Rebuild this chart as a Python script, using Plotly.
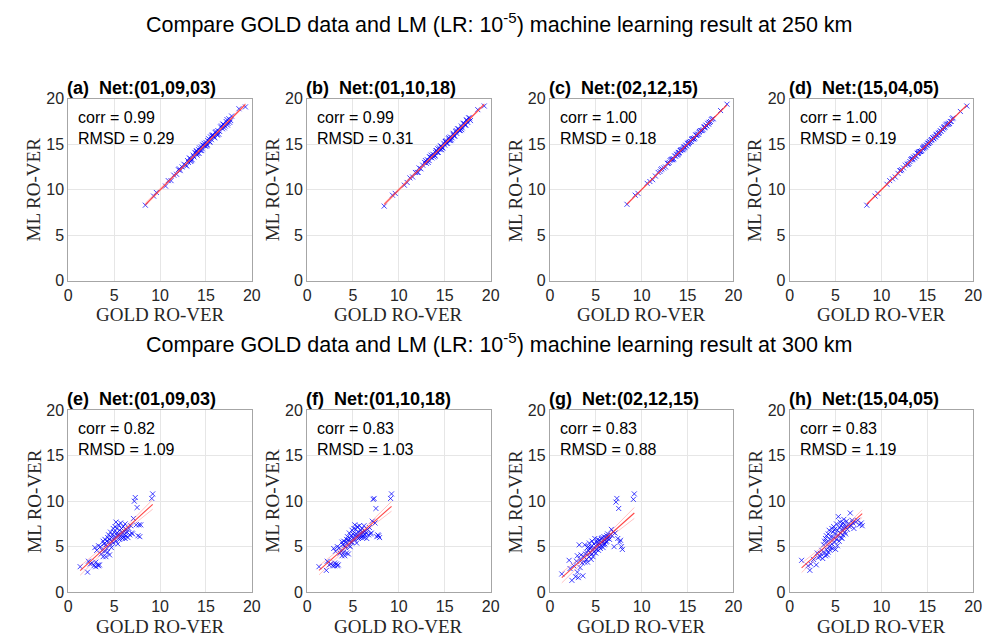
import numpy as np
import plotly.graph_objects as go

# ---------------- data ----------------
# 250 km : GOLD RO-VER (shared x) and ML RO-VER per network
gold_250 = [8.4, 9.3, 9.6, 10.6, 10.9, 11.2, 11.5, 11.8, 12.0, 12.2,
            12.4, 12.6, 12.8, 13.0, 13.1, 13.3, 13.4, 13.6, 13.7, 13.9,
            14.0, 14.1, 14.2, 14.4, 14.5, 14.6, 14.7, 14.9, 15.0, 15.1,
            15.2, 15.4, 15.5, 15.6, 15.8, 15.9, 16.0, 16.2, 16.3, 16.5,
            16.6, 16.8, 16.9, 17.1, 17.2, 17.4, 17.5, 17.7, 18.6, 19.3,
            12.1, 12.9, 13.2, 13.5, 13.8, 14.05, 14.3, 14.55, 14.8, 15.05,
            15.3, 15.45, 15.7, 15.95, 16.1, 16.4, 16.7, 17.0, 17.3, 17.6,
            13.35, 13.95, 14.25, 14.65, 15.15, 15.65, 16.25, 16.85, 17.35, 17.8]
ml_a = [8.3, 9.3, 9.7, 10.4, 11.0, 11.0, 11.6, 11.7, 12.2, 12.1,
        12.5, 12.8, 12.7, 13.2, 13.0, 13.4, 13.2, 13.8, 13.6, 14.0,
        14.2, 14.0, 14.4, 14.3, 14.7, 14.5, 14.9, 14.8, 15.2, 15.0,
        15.4, 15.3, 15.8, 15.5, 16.0, 15.8, 16.3, 16.1, 16.5, 16.4,
        16.9, 16.7, 17.2, 17.0, 17.5, 17.3, 17.8, 17.6, 18.9, 19.1,
        12.3, 12.6, 13.5, 13.3, 14.1, 13.8, 14.6, 14.3, 15.1, 14.8,
        15.6, 15.2, 16.0, 15.7, 16.4, 16.1, 17.0, 16.8, 17.7, 17.4,
        13.1, 14.3, 14.0, 14.9, 14.9, 15.9, 16.0, 17.2, 17.1, 18.1]
ml_b = [8.2, 9.4, 9.6, 10.5, 10.8, 11.3, 11.4, 11.9, 11.9, 12.4,
        12.3, 12.7, 13.0, 12.9, 13.3, 13.2, 13.6, 13.5, 13.9, 13.8,
        14.1, 14.3, 14.1, 14.6, 14.4, 14.8, 14.6, 15.1, 14.9, 15.3,
        15.1, 15.6, 15.4, 15.8, 15.7, 16.1, 15.9, 16.4, 16.2, 16.7,
        16.5, 17.0, 16.8, 17.3, 17.1, 17.6, 17.4, 17.9, 18.8, 19.2,
        11.9, 13.2, 13.0, 13.8, 13.6, 14.3, 14.1, 14.8, 14.6, 15.3,
        15.1, 15.7, 15.5, 16.2, 15.9, 16.7, 16.5, 17.3, 17.1, 17.9,
        13.6, 13.7, 14.5, 14.4, 15.4, 15.4, 16.5, 16.6, 17.7, 17.6]
ml_c = [8.4, 9.4, 9.6, 10.7, 10.9, 11.1, 11.5, 11.9, 12.0, 12.3,
        12.4, 12.5, 12.9, 13.0, 13.2, 13.3, 13.3, 13.7, 13.7, 13.8,
        14.1, 14.1, 14.3, 14.4, 14.4, 14.7, 14.7, 14.8, 15.1, 15.1,
        15.2, 15.3, 15.6, 15.6, 15.7, 16.0, 16.0, 16.1, 16.4, 16.5,
        16.5, 16.9, 16.9, 17.0, 17.3, 17.4, 17.5, 17.8, 18.7, 19.4,
        12.2, 12.9, 13.3, 13.4, 13.9, 14.0, 14.4, 14.5, 14.9, 15.0,
        15.3, 15.5, 15.6, 16.0, 16.1, 16.5, 16.6, 17.1, 17.2, 17.7,
        13.4, 13.9, 14.3, 14.6, 15.2, 15.6, 16.3, 16.8, 17.4, 17.8]
ml_d = [8.3, 9.3, 9.6, 10.6, 11.0, 11.2, 11.4, 11.8, 12.1, 12.2,
        12.4, 12.7, 12.8, 12.9, 13.1, 13.4, 13.4, 13.5, 13.7, 14.0,
        14.0, 14.2, 14.2, 14.3, 14.5, 14.6, 14.8, 14.9, 14.9, 15.1,
        15.3, 15.4, 15.5, 15.7, 15.8, 15.8, 16.1, 16.2, 16.3, 16.4,
        16.7, 16.8, 16.9, 17.2, 17.2, 17.3, 17.5, 17.8, 18.6, 19.2,
        12.1, 12.8, 13.3, 13.6, 13.7, 14.1, 14.2, 14.6, 14.7, 15.1,
        15.2, 15.5, 15.6, 16.0, 16.0, 16.5, 16.6, 17.1, 17.2, 17.5,
        13.3, 14.0, 14.2, 14.7, 15.1, 15.7, 16.2, 16.9, 17.3, 17.9]

# 300 km
gold_300 = [1.3, 2.1, 2.2, 2.4, 2.6, 2.8, 2.9, 3.0, 3.0, 3.1,
            3.2, 3.3, 3.3, 3.4, 3.5, 3.6, 3.7, 3.8, 3.8, 3.9,
            4.0, 4.0, 4.1, 4.1, 4.2, 4.2, 4.3, 4.3, 4.4, 4.4,
            4.5, 4.5, 4.6, 4.6, 4.7, 4.7, 4.8, 4.8, 4.9, 4.9,
            5.0, 5.0, 5.1, 5.1, 5.2, 5.2, 5.3, 5.3, 5.4, 5.4,
            5.5, 5.5, 5.6, 5.6, 5.7, 5.7, 5.8, 5.8, 5.9, 5.9,
            6.0, 6.0, 6.1, 6.1, 6.2, 6.2, 6.3, 6.3, 6.4, 6.5,
            6.6, 6.7, 6.8, 6.9, 7.0, 7.1, 7.2, 7.3, 7.4, 7.5,
            7.6, 7.7, 7.8, 7.9, 9.1, 9.2]
ml_e = [2.8, 2.2, 3.4, 3.1, 3.2, 2.9, 4.9, 3.3, 2.8, 4.6,
        3.0, 2.9, 5.1, 3.0, 5.0, 4.2, 4.6, 3.9, 5.6, 5.3,
        5.8, 4.5, 5.2, 3.9, 4.8, 5.6, 6.0, 4.4, 5.5, 6.3,
        4.1, 5.8, 6.6, 5.2, 6.0, 4.9, 6.3, 5.6, 7.0, 5.4,
        6.6, 5.9, 7.2, 6.1, 7.7, 5.6, 6.5, 7.0, 6.2, 5.3,
        7.4, 6.4, 6.8, 5.8, 7.6, 6.1, 7.0, 6.3, 6.6, 5.9,
        7.2, 6.0, 6.7, 6.3, 7.5, 5.9, 6.9, 6.2, 6.6, 6.0,
        7.0, 6.3, 7.3, 6.5, 6.4, 8.1, 10.0, 10.4, 7.4, 9.3,
        6.2, 7.4, 6.1, 7.4, 10.3, 10.8]
ml_f = [2.8, 2.4, 3.4, 3.0, 3.1, 2.9, 4.8, 3.2, 2.9, 4.5,
        3.1, 2.9, 5.0, 3.0, 4.9, 4.3, 4.5, 4.0, 5.5, 5.2,
        5.6, 4.4, 5.1, 4.0, 4.9, 5.5, 5.8, 4.3, 5.4, 6.1,
        4.2, 5.7, 6.5, 5.1, 5.9, 5.0, 6.2, 5.5, 6.8, 5.5,
        6.4, 5.9, 7.0, 6.0, 7.4, 5.7, 6.4, 6.9, 6.1, 5.4,
        7.2, 6.3, 6.6, 5.9, 7.3, 6.0, 6.8, 6.2, 6.5, 6.0,
        7.0, 6.1, 6.6, 6.2, 7.3, 6.0, 6.7, 6.3, 6.5, 5.9,
        6.9, 6.3, 7.1, 6.4, 6.5, 7.8, 10.2, 10.3, 7.6, 9.2,
        6.1, 6.3, 6.2, 6.0, 10.3, 10.8]
ml_g = [2.0, 3.5, 2.6, 1.3, 2.9, 1.7, 3.4, 2.2, 4.0, 1.6,
        5.2, 2.7, 3.6, 4.1, 3.2, 1.8, 3.9, 3.3, 5.2, 4.2,
        4.4, 3.6, 4.9, 3.3, 4.6, 5.0, 3.9, 5.4, 4.3, 4.8,
        3.6, 5.0, 4.2, 5.6, 4.7, 3.9, 5.3, 4.4, 5.9, 4.8,
        5.1, 4.3, 5.5, 4.7, 5.2, 5.8, 4.6, 5.4, 5.0, 5.7,
        5.3, 4.8, 5.9, 5.1, 5.5, 6.0, 4.9, 5.6, 5.2, 6.1,
        5.7, 5.3, 6.0, 5.5, 6.2, 5.6, 6.4, 5.9, 6.1, 5.8,
        6.3, 6.9, 6.2, 6.6, 5.0, 6.5, 9.9, 10.3, 5.9, 9.2,
        5.5, 5.7, 5.0, 4.7, 10.2, 10.8]
gold_300_h = [1.3, 2.0, 2.2, 2.3, 2.6, 2.9, 3.0, 3.1, 3.3, 3.4,
              3.5, 3.6, 3.7, 3.8, 3.8, 3.9, 3.9, 4.0, 4.0, 4.1,
              4.1, 4.2, 4.2, 4.3, 4.3, 4.4, 4.4, 4.5, 4.5, 4.6,
              4.6, 4.7, 4.7, 4.8, 4.8, 4.9, 4.9, 5.0, 5.0, 5.1,
              5.1, 5.2, 5.2, 5.3, 5.3, 5.4, 5.4, 5.5, 5.5, 5.6,
              5.6, 5.7, 5.7, 5.8, 5.8, 5.9, 5.9, 6.0, 6.0, 6.1,
              6.1, 6.2, 6.3, 6.4, 6.5, 6.6, 6.7, 6.8, 6.9, 7.0,
              7.2, 7.4, 7.6, 7.8, 7.9]
ml_h = [3.5, 2.9, 2.4, 3.1, 3.6, 3.0, 4.3, 3.8, 3.9, 4.2,
        4.6, 3.7, 5.2, 4.3, 5.6, 4.0, 5.9, 4.7, 6.2, 4.1,
        5.5, 6.4, 4.4, 5.0, 6.8, 4.6, 5.8, 6.1, 4.9, 7.0,
        5.3, 6.6, 4.8, 6.0, 7.2, 5.5, 6.9, 4.7, 6.4, 7.5,
        5.8, 6.8, 5.1, 8.3, 6.2, 7.1, 5.6, 6.5, 7.7, 6.0,
        7.3, 5.9, 6.9, 7.6, 6.3, 7.0, 8.0, 6.6, 7.4, 7.1,
        6.4, 7.8, 6.9, 7.5, 7.2, 8.7, 7.3, 7.9, 7.6, 7.0,
        7.7, 7.9, 7.4, 7.6, 7.3]

panel_tags = ["(a)", "(b)", "(c)", "(d)", "(e)", "(f)", "(g)", "(h)"]
net_names = ["Net:(01,09,03)", "Net:(01,10,18)", "Net:(02,12,15)", "Net:(15,04,05)"] * 2
corr_vals = ["0.99", "0.99", "1.00", "1.00", "0.82", "0.83", "0.83", "0.83"]
rmsd_vals = ["0.29", "0.31", "0.18", "0.19", "1.09", "1.03", "0.88", "1.19"]
tick_vals = [0, 5, 10, 15, 20]
altitudes = ["250", "300"]

xs = [gold_250] * 4 + [gold_300] * 3 + [gold_300_h]
ys = [ml_a, ml_b, ml_c, ml_d, ml_e, ml_f, ml_g, ml_h]

# ---------------- layout geometry (page pixels) ----------------
PAGE_W, PAGE_H = 1000, 644
OFF = 8                       # default body margin of the html page
W, H = PAGE_W - OFF, PAGE_H - OFF
col_left = [65, 307, 553, 796]
col_w = 186
row_top = [93, 413]
row_h = 187

def px(x):
    return (x - OFF) / W

def py(y):
    return 1 - (y - OFF) / H

fig = go.Figure()
AX_COL = "#a6a6a6"
TXT = "#262626"

for i in range(8):
    r, c = divmod(i, 4)
    n = i + 1
    xname = "x" if n == 1 else f"x{n}"
    yname = "y" if n == 1 else f"y{n}"
    x = np.array(xs[i], dtype=float)
    y = np.array(ys[i], dtype=float)

    fig.add_trace(go.Scatter(
        x=x, y=y, mode="markers", xaxis=xname, yaxis=yname, showlegend=False,
        marker=dict(symbol="x-thin", size=5, color="rgba(0,0,255,0.75)",
                    line=dict(width=1, color="rgba(0,0,255,0.75)"))))

    # linear fit + confidence bounds derived from data
    b1, b0 = np.polyfit(x, y, 1)
    xf = np.linspace(x.min(), x.max(), 50)
    yf = b0 + b1 * xf
    resid = y - (b0 + b1 * x)
    nn = len(x)
    se = np.sqrt(np.sum(resid ** 2) / (nn - 2))
    sxx = np.sum((x - x.mean()) ** 2)
    ci = 1.98 * se * np.sqrt(1 / nn + (xf - x.mean()) ** 2 / sxx)
    for yy, col, wd in [(yf + ci, "rgba(255,120,120,0.55)", 0.8),
                        (yf - ci, "rgba(255,120,120,0.55)", 0.8),
                        (yf, "rgba(255,50,50,0.9)", 1.1)]:
        fig.add_trace(go.Scatter(x=xf, y=yy, mode="lines", xaxis=xname, yaxis=yname,
                                 showlegend=False, line=dict(color=col, width=wd)))

    x0 = col_left[c]
    y0 = row_top[r]
    axcommon = dict(range=[0, 20], tickvals=tick_vals, showgrid=True, gridcolor="#e6e6e6",
                    gridwidth=1, zeroline=False, showline=True, mirror=True,
                    linecolor=AX_COL, linewidth=1, ticks="",
                    tickfont=dict(family="Liberation Sans, Arial", size=16, color=TXT))
    fig.update_layout(**{
        ("xaxis" if n == 1 else f"xaxis{n}"): dict(domain=[px(x0), px(x0 + col_w)], anchor=yname, **axcommon),
        ("yaxis" if n == 1 else f"yaxis{n}"): dict(domain=[py(y0 + row_h), py(y0)], anchor=xname, **axcommon),
    })

    # panel title
    fig.add_annotation(xref="paper", yref="paper", x=px(x0 - 3), y=py(y0 - 11),
                       xanchor="left", yanchor="middle", showarrow=False,
                       text=f"<b>{panel_tags[i]}&nbsp; {net_names[i]}</b>",
                       font=dict(family="Liberation Sans, Arial", size=18, color="#000"))
    # stats text
    fig.add_annotation(xref="paper", yref="paper", x=px(x0 + 8), y=py(y0 + 8),
                       xanchor="left", yanchor="top", showarrow=False, align="left",
                       text=f"corr = {corr_vals[i]}<br>RMSD = {rmsd_vals[i]}",
                       font=dict(family="Liberation Sans, Arial", size=16, color="#000"))
    # axis labels
    fig.add_annotation(xref="paper", yref="paper", x=px(x0 + col_w / 2), y=py(y0 + row_h + 35),
                       xanchor="center", yanchor="middle", showarrow=False,
                       text="GOLD RO-VER",
                       font=dict(family="Liberation Serif, Times New Roman", size=19, color=TXT))
    fig.add_annotation(xref="paper", yref="paper", x=px(x0 - 35), y=py(y0 + row_h / 2),
                       xanchor="center", yanchor="middle", showarrow=False, textangle=-90,
                       text="ML RO-VER",
                       font=dict(family="Liberation Serif, Times New Roman", size=19, color=TXT))

# row titles
for r, alt in enumerate(altitudes):
    fig.add_annotation(xref="paper", yref="paper", x=px(502), y=py([15, 344][r]),
                       xanchor="center", yanchor="middle", showarrow=False,
                       text=f"Compare GOLD data and LM (LR: 10<sup>-5</sup>) machine learning result at {alt} km",
                       font=dict(family="Liberation Sans, Arial", size=21.5, color="#000"))

fig.update_layout(width=W, height=H, margin=dict(l=0, r=0, t=0, b=0),
                  paper_bgcolor="white", plot_bgcolor="white", showlegend=False)

fig.write_html("out.html")
